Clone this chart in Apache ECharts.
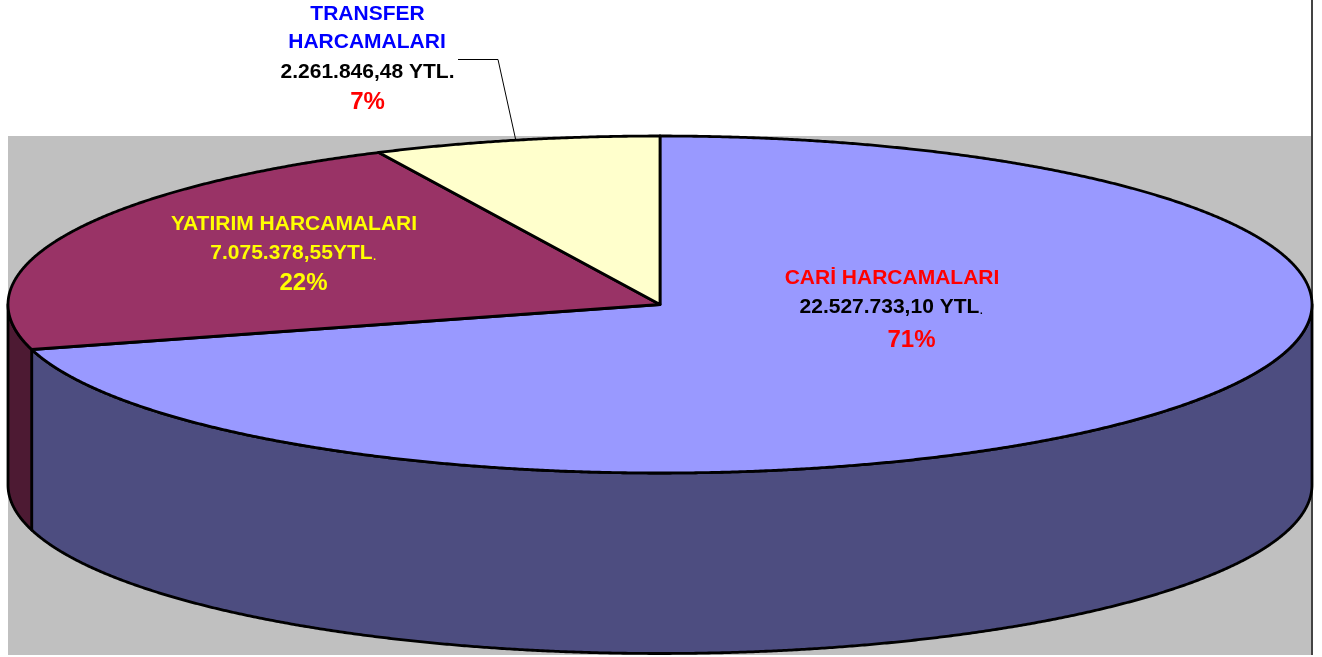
<!DOCTYPE html>
<html>
<head>
<meta charset="utf-8">
<title>Harcamalar</title>
<script src="https://cdn.jsdelivr.net/npm/echarts@6/dist/echarts.min.js"></script>
<style>
  html, body { margin: 0; padding: 0; background: #fff; }
  #chart { width: 1322px; height: 657px; }
</style>
</head>
<body>
<div id="chart"></div>
<script>
const categories = ['CARİ HARCAMALARI', 'YATIRIM HARCAMALARI', 'TRANSFER HARCAMALARI'];
const amounts = [22527733.10, 7075378.55, 2261846.48];
const amountLabels = ['22.527.733,10 YTL', '7.075.378,55YTL', '2.261.846,48 YTL.'];
const percentLabels = ['71%', '22%', '7%'];
const topColors = ['#9999ff', '#993366', '#ffffcc'];
const sideColors = ['#4d4d80', '#4d1a33', '#808066'];

// geometry of the tilted pie
const cx = 660, cy = 304.5, rx = 652, ry = 168.5, depth = 180.5;
const family = '"Liberation Sans", Arial, sans-serif';
const total = amounts.reduce((a, b) => a + b, 0);

// angle is clockwise from twelve o'clock
const rimPoint = (a, dy) => [cx + rx * Math.sin(a), cy - ry * Math.cos(a) + (dy || 0)];

function arc(from, to, dy) {
  const pts = [];
  const steps = Math.max(2, Math.ceil((to - from) / 0.004));
  for (let i = 0; i <= steps; i++) {
    pts.push(rimPoint(from + (to - from) * i / steps, dy));
  }
  return pts;
}

const line = { stroke: '#000', lineWidth: 2.8, lineJoin: 'round' };

function renderSlice(params, api) {
  const i = params.dataIndex;
  const start = amounts.slice(0, i).reduce((a, b) => a + b, 0) / total * Math.PI * 2;
  const end = start + api.value(0) / total * Math.PI * 2;
  const children = [];

  // front wall, only the part between 3 and 9 o'clock shows
  const wallFrom = Math.max(start, Math.PI / 2);
  const wallTo = Math.min(end, Math.PI * 1.5);
  if (wallTo > wallFrom) {
    const wall = arc(wallFrom, wallTo, 0).concat(arc(wallFrom, wallTo, depth).reverse());
    children.push({
      type: 'polygon',
      z2: 1,
      shape: { points: wall },
      style: Object.assign({ fill: sideColors[i] }, line)
    });
  }

  children.push({
    type: 'polygon',
    z2: 2,
    shape: { points: [[cx, cy]].concat(arc(start, end, 0)) },
    style: Object.assign({ fill: topColors[i] }, line)
  });
  return { type: 'group', children: children };
}

// text lines are placed by hand like in the original sheet
function textLine(text, x, y, fill, size) {
  return {
    type: 'text',
    z: 10,
    style: {
      text: text,
      x: x,
      y: y,
      fill: fill,
      align: 'center',
      verticalAlign: 'middle',
      font: 'bold ' + (size || 21) + 'px ' + family
    }
  };
}

// amount line whose closing period is much smaller, as in the source
function amountLine(text, x, y, fill) {
  const el = textLine('{b|' + text + '}{s|.}', x, y, fill);
  el.style.rich = {
    b: { fill: fill, fontSize: 21, fontWeight: 'bold', fontFamily: family },
    s: { fill: fill, fontSize: 15, fontFamily: family, verticalAlign: 'bottom' }
  };
  return el;
}

const midTransfer = (amounts[0] + amounts[1] + amounts[2] / 2) / total * Math.PI * 2;
const leaderEnd = rimPoint(midTransfer, 0);

const chart = echarts.init(document.getElementById('chart'), null, { renderer: 'canvas' });
chart.setOption({
  animation: false,
  backgroundColor: '#fff',
  graphic: {
    elements: [
      { type: 'rect', z: -10, shape: { x: 8, y: 136, width: 1303, height: 519 }, style: { fill: '#c0c0c0' } },
      { type: 'rect', z: -9, shape: { x: 1311, y: 0, width: 2, height: 655 }, style: { fill: '#444' } },
      { type: 'polyline', z: 5, shape: { points: [[458, 59.5], [498, 59.5], leaderEnd] }, style: { stroke: '#000', lineWidth: 1, fill: null } },
      textLine('CARİ HARCAMALARI', 892, 278, '#ff0000'),
      amountLine(amountLabels[0], 891.5, 307, '#000000'),
      textLine(percentLabels[0], 911.5, 340, '#ff0000', 24),
      textLine('YATIRIM HARCAMALARI', 294, 224, '#ffff00'),
      amountLine(amountLabels[1], 293.5, 253, '#ffff00'),
      textLine(percentLabels[1], 303.5, 283, '#ffff00', 24),
      textLine('TRANSFER', 367.5, 14, '#0000ff'),
      textLine('HARCAMALARI', 367, 42, '#0000ff'),
      textLine(amountLabels[2], 367.5, 72, '#000000'),
      textLine(percentLabels[2], 367.5, 102, '#ff0000', 24)
    ]
  },
  series: [{
    type: 'custom',
    coordinateSystem: 'none',
    silent: true,
    clip: false,
    renderItem: renderSlice,
    data: categories.map((name, i) => ({ name: name, value: [amounts[i]] }))
  }]
});
</script>
</body>
</html>
